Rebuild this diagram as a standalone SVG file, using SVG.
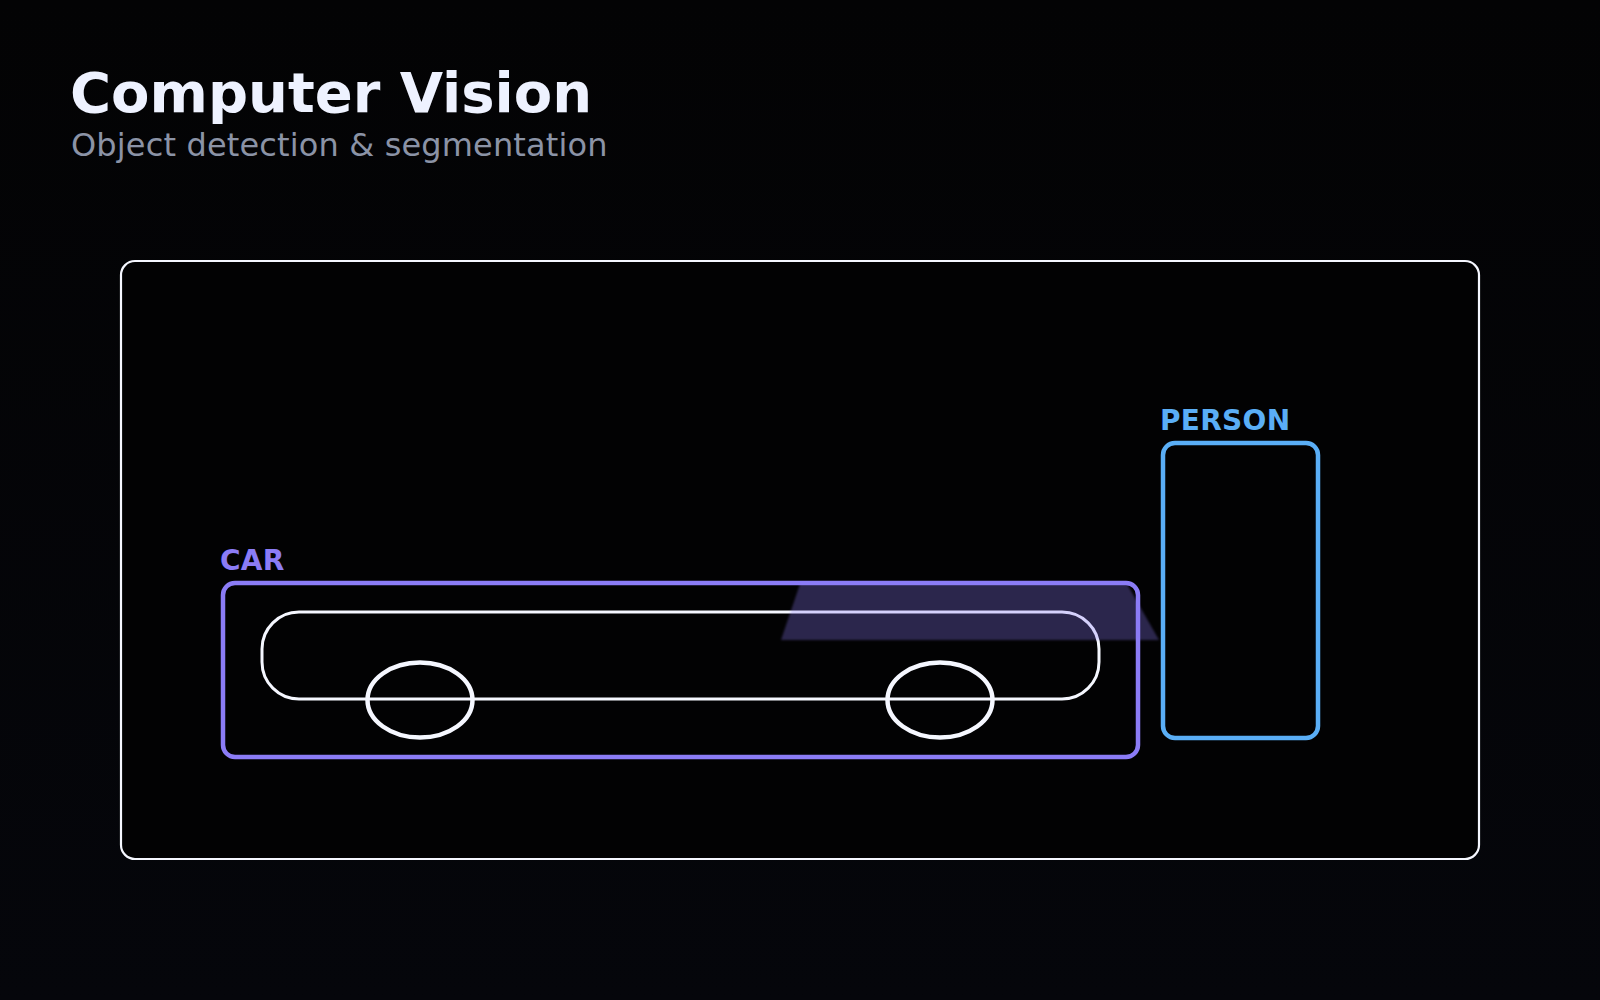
<svg xmlns="http://www.w3.org/2000/svg" width="1600" height="1000" viewBox="0 0 1600 1000">
  <defs>
    <linearGradient id="bg" x1="0" y1="0" x2="0" y2="1">
      <stop offset="0" stop-color="#030304"/>
      <stop offset="1" stop-color="#05060b"/>
    </linearGradient>
    <filter id="soft" x="-5%" y="-20%" width="110%" height="140%">
      <feGaussianBlur stdDeviation="0.8"/>
    </filter>
    <style>
      .title { font-family: "DejaVu Sans", "Liberation Sans", sans-serif; font-weight: bold; font-size: 56px; fill: #eef2ff; }
      .sub { font-family: "DejaVu Sans", "Liberation Sans", sans-serif; font-size: 32px; fill: #8b93a6; }
      .lbl { font-family: "DejaVu Sans", "Liberation Sans", sans-serif; font-weight: bold; font-size: 28px; letter-spacing: 0.3px; }
      .white { fill: none; stroke: #f5f7ff; }
    </style>
  </defs>
  <rect width="1600" height="1000" fill="url(#bg)"/>
  <text class="title" x="70" y="112">Computer Vision</text>
  <text class="sub" x="71" y="156" letter-spacing="0.15">Object detection &amp; segmentation</text>

  <g id="frame">
    <rect x="121" y="261" width="1358" height="598" rx="14" fill="#020203" stroke="#f5f7ff" stroke-width="2.2"/>
  </g>

  <g id="car-shape">
    <rect class="white" x="262" y="612" width="837" height="87" rx="37" stroke-width="3"/>
    <ellipse class="white" cx="420" cy="700" rx="52.5" ry="37.5" stroke-width="4.5"/>
    <ellipse class="white" cx="940" cy="700" rx="52.5" ry="37.5" stroke-width="4.5"/>
  </g>

  <g id="car">
    <rect x="223" y="583" width="915" height="174" rx="12" fill="none" stroke="#8b7cf6" stroke-width="4.5"/>
    <text class="lbl" x="220" y="570" fill="#8b7cf6">CAR</text>
  </g>

  <g id="segment">
    <polygon points="800,584 1127,584 1159,640 781,640" fill="#8b7cf6" fill-opacity="0.3" filter="url(#soft)"/>
  </g>

  <g id="person">
    <rect x="1163" y="443" width="155" height="295" rx="12" fill="none" stroke="#5aaef6" stroke-width="4.5"/>
    <text class="lbl" x="1160" y="430" fill="#5aaef6">PERSON</text>
  </g>

  <g id="connectors"></g>
</svg>
